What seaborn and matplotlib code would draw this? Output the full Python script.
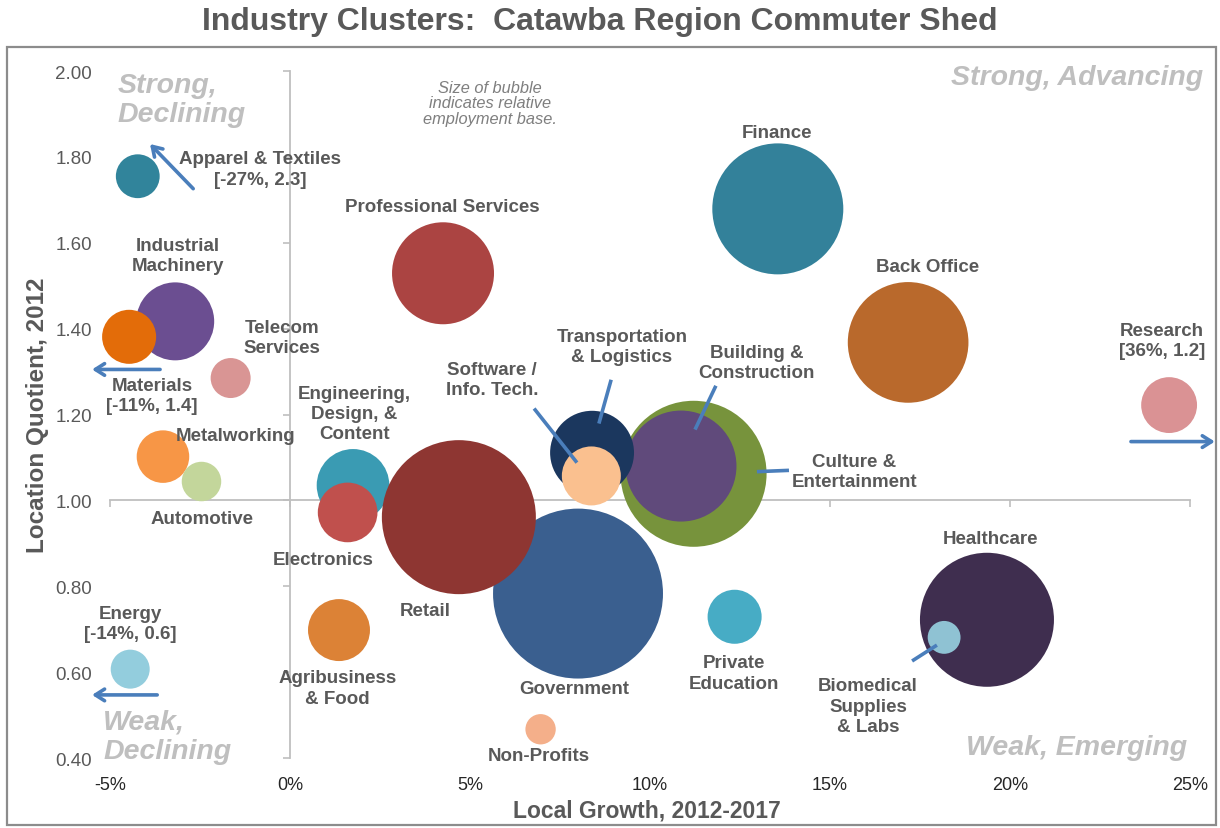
import matplotlib
matplotlib.use("Agg")
import matplotlib.pyplot as plt
from matplotlib.patches import Rectangle
import pandas as pd
import seaborn as sns

# ---- data -----------------------------------------------------------------
# Listed in drawing order (later rows are drawn on top).
clusters = [
    "Government", "Culture & Entertainment", "Building & Construction",
    "Healthcare", "Finance", "Back Office", "Professional Services",
    "Engineering, Design, & Content", "Electronics", "Retail",
    "Transportation & Logistics", "Software / Info. Tech.",
    "Industrial Machinery", "Materials", "Agribusiness & Food", "Research",
    "Private Education", "Metalworking", "Automotive", "Apparel & Textiles",
    "Telecom Services", "Energy", "Biomedical Supplies & Labs", "Non-Profits",
]
# Local growth 2012-2017 (%) as plotted
growth = [8.0, 11.21, 10.86, 19.36, 13.55, 17.17, 4.25, 1.75, 1.60, 4.69,
          8.39, 8.37, -3.19, -4.47, 1.36, 24.42, 12.35, -3.53, -2.46, -4.23,
          -1.65, -4.44, 18.17, 6.96]
# Location quotient 2012 as plotted
lq = [0.783, 1.062, 1.080, 0.722, 1.679, 1.368, 1.529, 1.035, 0.972, 0.961,
      1.111, 1.057, 1.417, 1.381, 0.698, 1.222, 0.729, 1.102, 1.044, 1.755,
      1.285, 0.607, 0.681, 0.467]
# Relative employment base (bubble area)
employment = [722, 533, 308, 449, 429, 364, 260, 132, 89, 593,
              176, 87, 152, 73, 96, 78, 73, 69, 39, 48,
              40, 38, 27, 23]
colors = ["#3A5F8F", "#77933C", "#604A7B", "#3F2E4F", "#33819A", "#B9692C",
          "#AB4442", "#3A9BB3", "#C0504D", "#8E3632", "#1B375E", "#FAC08F",
          "#6B4E91", "#E36C09", "#DC8236", "#DA9294", "#47ACC5", "#F79646",
          "#C3D69B", "#31849B", "#D99594", "#93CDDD", "#8FC2D3", "#F4AF8A"]

# Clusters whose actual values fall outside the plotted range
offscale = ["Apparel & Textiles", "Materials", "Energy", "Research"]
offscale_growth = [-27, -11, -14, 36]
offscale_lq = [2.3, 1.4, 0.6, 1.2]

x_ticks = [-5, 0, 5, 10, 15, 20, 25]
y_ticks = [0.40, 0.60, 0.80, 1.00, 1.20, 1.40, 1.60, 1.80, 2.00]

# ---- styling ----------------------------------------------------------------
sns.set_theme(style="white")
plt.rcParams["font.family"] = ["Liberation Sans", "DejaVu Sans"]

TEXT = "#595959"
QUAD = "#BFBFBF"
AXLINE = "#BFBFBF"
ARROW = "#4A7EBB"

DPI = 100
fig = plt.figure(figsize=(12.2, 8.29), dpi=DPI)
ax = fig.add_axes([0.0902, 0.0844, 0.8852, 0.8287])

df = pd.DataFrame({"cluster": clusters, "growth": growth, "lq": lq,
                   "employment": employment})

# bubble area in points^2 per employment unit
k = 40 * (72 / DPI) ** 2
emin, emax = min(employment), max(employment)
sns.scatterplot(data=df, x="growth", y="lq", hue="cluster",
                palette=dict(zip(clusters, colors)), size="employment",
                sizes=(k * emin, k * emax), size_norm=(emin, emax),
                linewidth=0, alpha=1, legend=False, ax=ax, zorder=3)
for coll in ax.collections:
    coll.set_clip_on(False)

ax.set_xlim(-5, 25)
ax.set_ylim(0.4, 2.0)
for s in ax.spines.values():
    s.set_visible(False)
ax.set_xticks(x_ticks, labels=[f"{v}%" for v in x_ticks])
ax.set_yticks(y_ticks, labels=[f"{v:.2f}" for v in y_ticks])
ax.tick_params(axis="x", length=0, pad=13, labelsize=13, labelcolor="#262626")
ax.tick_params(axis="y", length=0, pad=13, labelsize=13.5, labelcolor=TEXT)
ax.grid(False)

# crossing axis lines at 0% growth and LQ = 1.0
sec_y = ax.secondary_yaxis((0 - (-5)) / 30)
sec_y.set_yticks(y_ticks)
sec_y.tick_params(length=5, width=1.2, color=AXLINE, labelleft=False,
                  labelright=False)
sec_x = ax.secondary_xaxis((1.0 - 0.4) / 1.6)
sec_x.set_xticks(x_ticks)
sec_x.tick_params(length=5, width=1.2, color=AXLINE, labelbottom=False,
                  labeltop=False)
for sec in (sec_x, sec_y):
    for s in sec.spines.values():
        s.set_color(AXLINE)
        s.set_linewidth(1.3)

ax.set_xlabel("Local Growth, 2012-2017", fontsize=16.5, weight="bold",
              color=TEXT)
ax.xaxis.label.set_va("center")
ax.xaxis.set_label_coords(0.497, -0.0757)
ax.set_ylabel("Location Quotient, 2012", fontsize=17.5, weight="bold",
              color=TEXT)
ax.yaxis.label.set_va("center")
ax.yaxis.set_label_coords(-0.0676, 0.5)

# ---- bubble labels ----------------------------------------------------------
def offscale_label(name, title):
    i = offscale.index(name)
    return f"{title}\n[{offscale_growth[i]}%, {offscale_lq[i]:.1f}]"

labels = [
    ("Apparel & Textiles", offscale_label("Apparel & Textiles", "Apparel & Textiles"), -0.83, 1.772),
    ("Industrial Machinery", "Industrial\nMachinery", -3.11, 1.570),
    ("Telecom Services", "Telecom\nServices", -0.22, 1.379),
    ("Materials", offscale_label("Materials", "Materials"), -3.83, 1.244),
    ("Metalworking", "Metalworking", -1.50, 1.151),
    ("Automotive", "Automotive", -2.44, 0.958),
    ("Engineering, Design, & Content", "Engineering,\nDesign, &\nContent", 1.78, 1.202),
    ("Electronics", "Electronics", 0.92, 0.863),
    ("Retail", "Retail", 3.75, 0.744),
    ("Energy", offscale_label("Energy", "Energy"), -4.44, 0.714),
    ("Agribusiness & Food", "Agribusiness\n& Food", 1.31, 0.563),
    ("Non-Profits", "Non-Profits", 6.92, 0.407),
    ("Government", "Government", 7.89, 0.563),
    ("Private Education", "Private\nEducation", 12.33, 0.598),
    ("Biomedical Supplies & Labs", "Biomedical\nSupplies\n& Labs", 16.06, 0.521),
    ("Healthcare", "Healthcare", 19.47, 0.912),
    ("Professional Services", "Professional Services", 4.22, 1.684),
    ("Software / Info. Tech.", "Software /\nInfo. Tech.", 5.61, 1.281),
    ("Transportation & Logistics", "Transportation\n& Logistics", 9.22, 1.358),
    ("Building & Construction", "Building &\nConstruction", 12.97, 1.321),
    ("Culture & Entertainment", "Culture &\nEntertainment", 15.67, 1.067),
    ("Finance", "Finance", 13.53, 1.856),
    ("Back Office", "Back Office", 17.72, 1.544),
    ("Research", offscale_label("Research", "Research"), 24.22, 1.372),
]
for _, text, tx, ty in labels:
    ax.text(tx, ty, text, ha="center", va="center", fontsize=13.5,
            weight="bold", color=TEXT, linespacing=1.25, zorder=5,
            clip_on=False)

# arrows pointing toward the off-scale positions
arrows = [((-2.69, 1.726), (-3.89, 1.830)),
          ((-3.61, 1.305), (-5.50, 1.305)),
          ((-3.69, 0.547), (-5.50, 0.547)),
          ((23.36, 1.137), (25.69, 1.137))]
for start, end in arrows:
    ax.annotate("", xy=end, xytext=start, annotation_clip=False,
                arrowprops=dict(arrowstyle="->,head_length=0.55,head_width=0.35",
                                color=ARROW, lw=2.6, shrinkA=0, shrinkB=0),
                zorder=6)

# leader lines from labels to bubbles
leaders = [((6.78, 1.214), (7.97, 1.088)),
           ((8.92, 1.281), (8.58, 1.179)),
           ((11.83, 1.267), (11.25, 1.165)),
           ((13.86, 1.070), (12.97, 1.067)),
           ((17.28, 0.626), (17.97, 0.663))]
for (x0, y0), (x1, y1) in leaders:
    ax.plot([x0, x1], [y0, y1], color=ARROW, lw=2.6, solid_capstyle="butt",
            zorder=6)

# quadrant captions
qkw = dict(fontsize=20.5, weight="bold", style="italic", color=QUAD,
           linespacing=1.15, zorder=2, clip_on=False)
ax.text(-4.78, 1.934, "Strong,\nDeclining", ha="left", va="center", **qkw)
ax.text(25.36, 1.986, "Strong, Advancing", ha="right", va="center", **qkw)
ax.text(-5.19, 0.451, "Weak,\nDeclining", ha="left", va="center", **qkw)
ax.text(24.92, 0.426, "Weak, Emerging", ha="right", va="center", **qkw)

ax.text(5.56, 1.926, "Size of bubble\nindicates relative\nemployment base.",
        ha="center", va="center", fontsize=11.8, style="italic",
        color="#7F7F7F", linespacing=1.05)

# ---- frame and title --------------------------------------------------------
fig.add_artist(Rectangle((0.0057, 0.0036), 0.991, 0.9385,
                         transform=fig.transFigure, fill=False,
                         edgecolor="#8C8C8C", linewidth=1.6))
fig.text(0.492, 0.9735, "Industry Clusters:  Catawba Region Commuter Shed",
         ha="center", va="center", fontsize=23, weight="bold", color=TEXT)

fig.savefig("out.png", dpi=DPI)
